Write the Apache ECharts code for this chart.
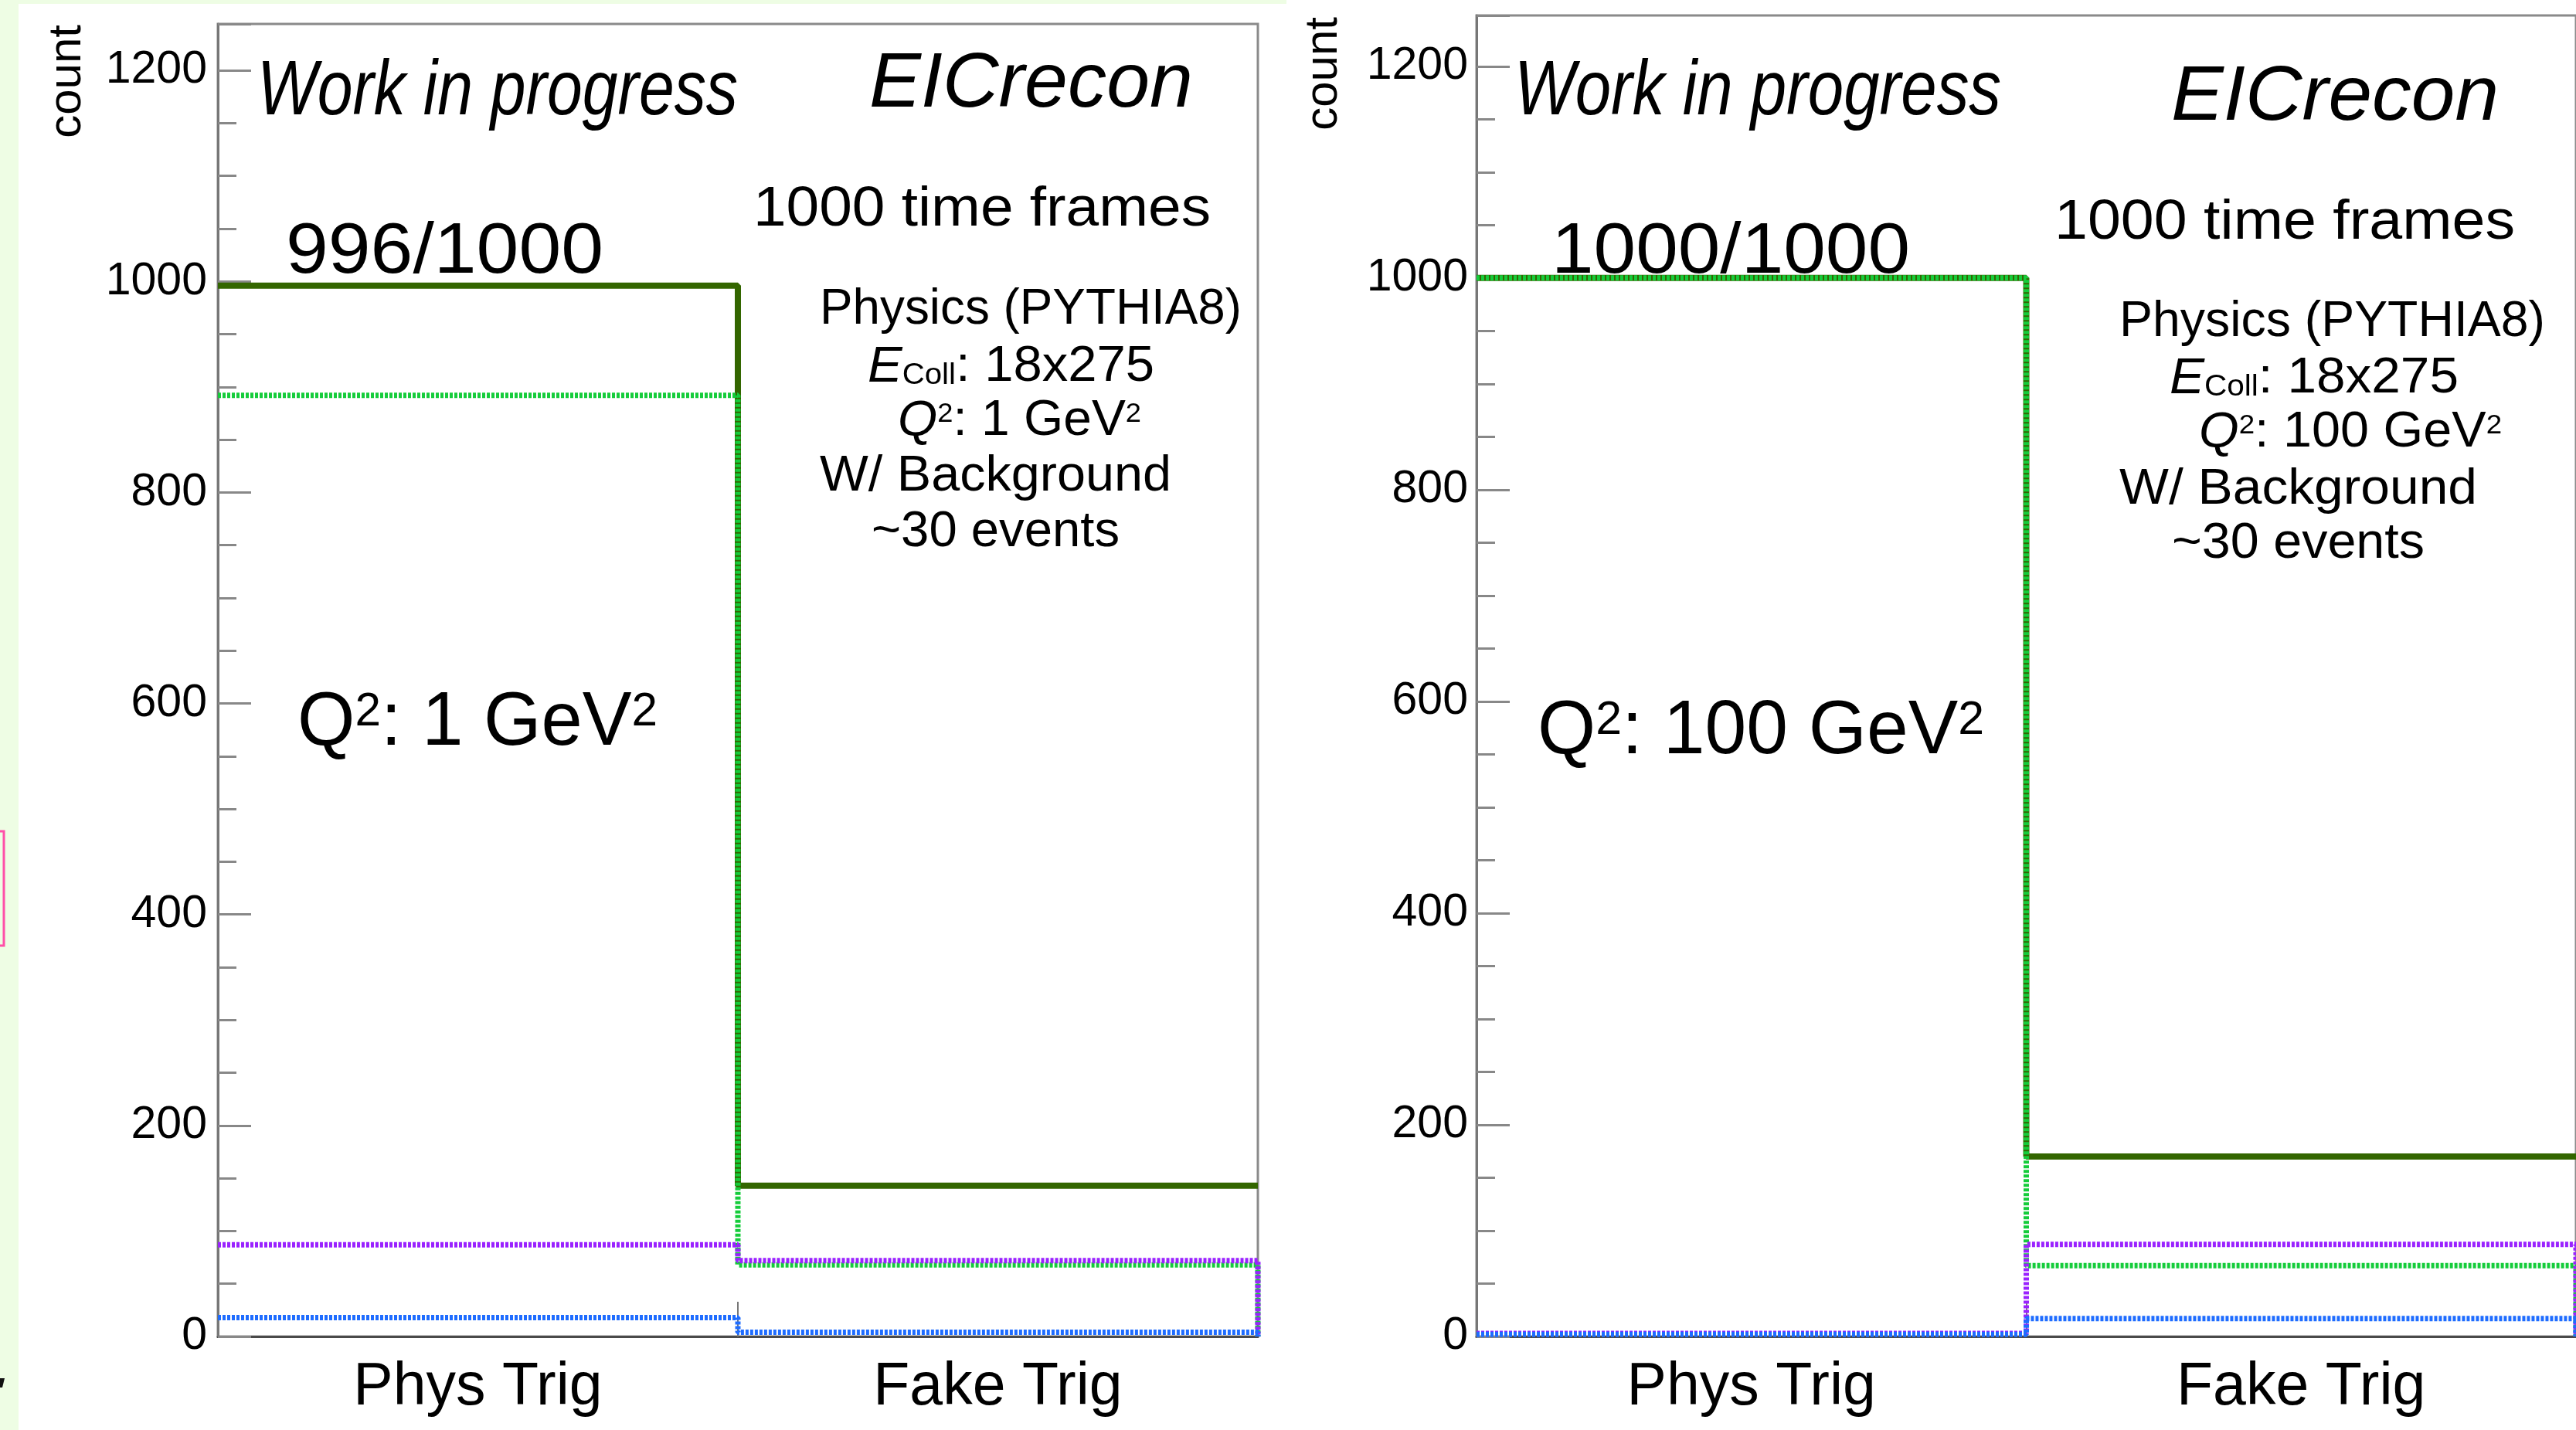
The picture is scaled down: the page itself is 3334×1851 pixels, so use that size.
<!DOCTYPE html>
<html>
<head>
<meta charset="utf-8">
<script src="https://cdn.jsdelivr.net/npm/echarts@6/dist/echarts.min.js"></script>
<style>
  html, body { margin: 0; padding: 0; background: #ffffff; }
  #chart { width: 3334px; height: 1851px; }
</style>
</head>
<body>
<div id="chart"></div>
<script>
// ---------------- DATA ----------------
const categories = ['Phys Trig', 'Fake Trig'];
const yTickValues = [0, 200, 400, 600, 800, 1000, 1200];

// Panel 1: Q2 = 1 GeV2
const q1Total  = [996, 143];
const q1Green  = [892, 68];
const q1Purple = [87, 72];
const q1Blue   = [18, 4];

// Panel 2: Q2 = 100 GeV2
const q100Total  = [1000, 170];
const q100Green  = [1000, 67];
const q100Purple = [3, 87];
const q100Blue   = [2, 17];

// ---------------- STYLE ----------------
const FONT = '"Liberation Sans", Arial, Helvetica, sans-serif';
const C_TOTAL = '#336600';
const C_GREEN = '#14cc3a';
const C_PURPLE = '#9a22ff';
const C_BLUE = '#1e6cff';

function histPoints(vals, dropEnd) {
  const pts = [];
  vals.forEach((v, i) => { pts.push([i, v]); pts.push([i + 1, v]); });
  if (dropEnd) pts.push([vals.length, 0]);
  return pts;
}

function histSeries(vals, color, dotted, axisIdx, z) {
  return {
    type: 'line',
    xAxisIndex: axisIdx * 2,
    yAxisIndex: axisIdx * 2,
    data: histPoints(vals, dotted),
    showSymbol: false,
    symbol: 'none',
    silent: true,
    z: z,
    lineStyle: { color: color, width: dotted ? 7 : 8, type: dotted ? [4, 2] : 'solid', cap: 'butt' },
    animation: false
  };
}

function xAxes(gi) {
  return [
    {
      type: 'value', gridIndex: gi, min: 0, max: categories.length, interval: 1,
      axisLine: { show: true, lineStyle: { color: '#4a4a4a', width: 3 } },
      axisTick: { show: true, inside: true, length: 45, lineStyle: { color: '#777', width: 2 } },
      axisLabel: { show: false }, splitLine: { show: false }
    },
    {
      type: 'category', gridIndex: gi, data: categories, boundaryGap: true, position: 'bottom',
      axisLine: { show: false }, axisTick: { show: false }, splitLine: { show: false },
      axisLabel: { fontSize: 77, color: '#000', margin: 28, fontFamily: FONT }
    }
  ];
}

function yAxes(gi, maxV, margin) {
  return [
    {
      type: 'value', gridIndex: gi, min: 0, max: maxV, interval: 200, position: 'left',
      axisLine: { show: true, lineStyle: { color: '#777', width: 3 } },
      axisTick: { show: true, inside: true, length: 43, lineStyle: { color: '#888', width: 3 } },
      axisLabel: {
        fontSize: 59, color: '#000', margin: margin, fontFamily: FONT,
        formatter: v => (yTickValues.indexOf(v) >= 0 ? String(v) : '')
      },
      splitLine: { show: false }
    },
    {
      type: 'value', gridIndex: gi, min: 0, max: maxV, interval: 50, position: 'left', offset: 0,
      axisLine: { show: false },
      axisTick: { show: true, inside: true, length: 24, lineStyle: { color: '#888', width: 3 } },
      axisLabel: { show: false }, splitLine: { show: false }
    }
  ];
}

// ---------------- TEXT HELPERS ----------------
const mctx = document.createElement('canvas').getContext('2d');
function fstr(size, italic) { return (italic ? 'italic ' : '') + size.toFixed(1) + 'px ' + FONT; }
const MID = 0.27; // offset from alphabetic baseline to 'middle' baseline (fraction of font size)

function textRun(pieces, left, right, baseline, F) {
  const items = pieces.map(p => ({ t: p[0], size: F * (p[1] || 1), it: !!p[2], dy: F * (p[3] || 0) }));
  let total = 0;
  items.forEach(it => { mctx.font = fstr(it.size, it.it); it.w = mctx.measureText(it.t).width; total += it.w; });
  const sx = (right - left) / total;
  let x = left;
  const els = [];
  items.forEach(it => {
    els.push({
      type: 'text', x: x, y: baseline + it.dy - MID * it.size, scaleX: sx, scaleY: 1, silent: true, z: 50,
      style: { text: it.t, font: fstr(it.size, it.it), fill: '#000', align: 'left', verticalAlign: 'middle' }
    });
    x += it.w * sx;
  });
  return els;
}

function countLabel(xMid, top) {
  return {
    type: 'text', x: xMid, y: top, rotation: Math.PI / 2, silent: true, z: 50,
    style: { text: 'count', font: fstr(60, false), fill: '#000', align: 'right', verticalAlign: 'middle' }
  };
}

const graphics = [];
// slide background remnants
graphics.push({ type: 'rect', shape: { x: 0, y: 0, width: 24, height: 1851 }, style: { fill: '#eefde4' }, silent: true, z: 1 });
graphics.push({ type: 'rect', shape: { x: 0, y: 0, width: 1665, height: 5 }, style: { fill: '#eefde4' }, silent: true, z: 1 });
graphics.push({ type: 'rect', shape: { x: -6, y: 1076, width: 11, height: 148 }, style: { fill: 'none', stroke: '#ff4fa8', lineWidth: 3 }, silent: true, z: 2 });
graphics.push({ type: 'polygon', shape: { points: [[0, 1784], [6, 1784], [3, 1796], [0, 1796]] }, style: { fill: '#111' }, silent: true, z: 2 });

// Left panel texts
graphics.push(...textRun([['Work in progress', 1, true]], 333, 955, 147, 100));
graphics.push(...textRun([['EICrecon', 1, true]], 1125, 1544, 137, 100));
graphics.push(...textRun([['1000 time frames', 1]], 975, 1567, 292, 72));
graphics.push(...textRun([['996/1000', 1]], 370, 781, 352, 93));
graphics.push(...textRun([['Physics (PYTHIA8)', 1]], 1061, 1607, 419, 65));
graphics.push(...textRun([['E', 1, true], ['Coll', 0.6, false, 0.06], [': 18x275', 1]], 1123, 1494, 493, 65));
graphics.push(...textRun([['Q', 1, true], ['2', 0.55, false, -0.27], [': 1 GeV', 1], ['2', 0.55, false, -0.27]], 1162, 1477, 563, 65));
graphics.push(...textRun([['W/ Background', 1]], 1061, 1516, 635, 65));
graphics.push(...textRun([['~30 events', 1]], 1128, 1449, 707, 65));
graphics.push(...textRun([['Q', 1], ['2', 0.63, false, -0.25], [': 1 GeV', 1], ['2', 0.63, false, -0.25]], 385, 851, 963, 98));
graphics.push(countLabel(87, 32));

// Right panel texts
graphics.push(...textRun([['Work in progress', 1, true]], 1960, 2590, 147, 100));
graphics.push(...textRun([['EICrecon', 1, true]], 2810, 3234, 154, 100));
graphics.push(...textRun([['1000 time frames', 1]], 2659, 3255, 309, 72));
graphics.push(...textRun([['1000/1000', 1]], 2008, 2472, 352, 93));
graphics.push(...textRun([['Physics (PYTHIA8)', 1]], 2743, 3294, 435, 65));
graphics.push(...textRun([['E', 1, true], ['Coll', 0.6, false, 0.06], [': 18x275', 1]], 2808, 3182, 508, 65));
graphics.push(...textRun([['Q', 1, true], ['2', 0.55, false, -0.27], [': 100 GeV', 1], ['2', 0.55, false, -0.27]], 2846, 3238, 578, 65));
graphics.push(...textRun([['W/ Background', 1]], 2743, 3206, 652, 65));
graphics.push(...textRun([['~30 events', 1]], 2811, 3138, 722, 65));
graphics.push(...textRun([['Q', 1], ['2', 0.63, false, -0.25], [': 100 GeV', 1], ['2', 0.63, false, -0.25]], 1990, 2568, 974, 98));
graphics.push(countLabel(1713, 22));

// ---------------- CHART ----------------
const chart = echarts.init(document.getElementById('chart'), null, { renderer: 'canvas', width: 3334, height: 1851 });
chart.setOption({
  animation: false,
  backgroundColor: '#ffffff',
  textStyle: { fontFamily: FONT },
  grid: [
    { left: 282, top: 31, width: 1346, height: 1699, show: true, borderColor: '#8a8a8a', borderWidth: 3, backgroundColor: 'transparent', containLabel: false },
    { left: 1911, top: 20, width: 1432, height: 1710, show: true, borderColor: '#8a8a8a', borderWidth: 3, backgroundColor: 'transparent', containLabel: false }
  ],
  xAxis: [...xAxes(0), ...xAxes(1)],
  yAxis: [...yAxes(0, 1244, 14), ...yAxes(1, 1248, 11)],
  series: [
    histSeries(q1Total, C_TOTAL, false, 0, 3),
    histSeries(q1Green, C_GREEN, true, 0, 4),
    histSeries(q1Purple, C_PURPLE, true, 0, 5),
    histSeries(q1Blue, C_BLUE, true, 0, 6),
    histSeries(q100Total, C_TOTAL, false, 1, 3),
    histSeries(q100Green, C_GREEN, true, 1, 4),
    histSeries(q100Purple, C_PURPLE, true, 1, 5),
    histSeries(q100Blue, C_BLUE, true, 1, 6)
  ],
  graphic: { elements: graphics }
});
</script>
</body>
</html>
